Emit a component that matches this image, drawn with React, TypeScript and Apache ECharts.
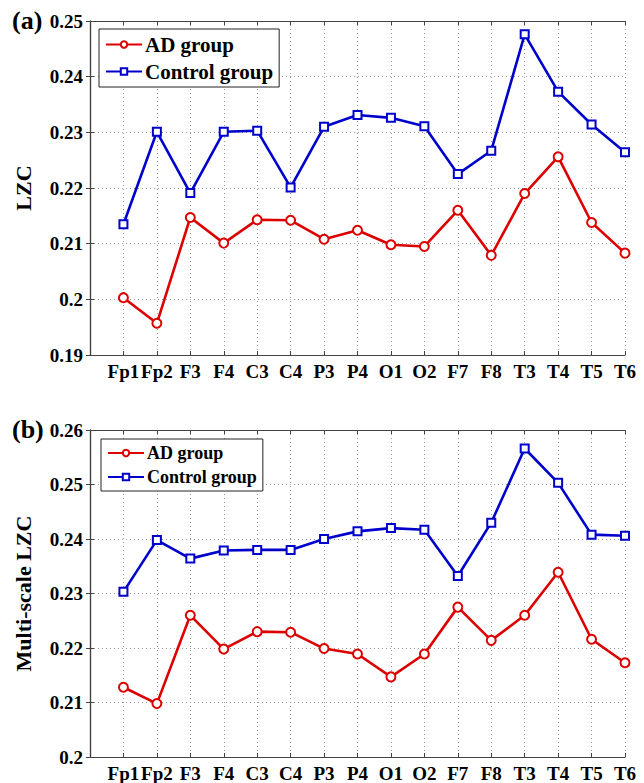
import React, { useEffect, useRef } from "react";
import * as echarts from "echarts";

// EEG channels along the horizontal axis
const categories = ["Fp1", "Fp2", "F3", "F4", "C3", "C4", "P3", "P4", "O1", "O2", "F7", "F8", "T3", "T4", "T5", "T6"];

// (a) LZC per channel
const lzcAD = [0.2003, 0.1957, 0.2147, 0.2101, 0.2143, 0.2142, 0.2108, 0.2124, 0.2098, 0.2095, 0.216, 0.2079, 0.219, 0.2256, 0.2138, 0.2083];
const lzcControl = [0.2135, 0.2301, 0.2191, 0.2301, 0.2303, 0.2201, 0.231, 0.2331, 0.2326, 0.2311, 0.2225, 0.2267, 0.2476, 0.2373, 0.2314, 0.2264];

// (b) Multi-scale LZC per channel
const msAD = [0.2128, 0.2098, 0.226, 0.2198, 0.223, 0.2229, 0.2199, 0.2189, 0.2147, 0.2189, 0.2275, 0.2214, 0.226, 0.2339, 0.2216, 0.2173];
const msControl = [0.2303, 0.2398, 0.2364, 0.2379, 0.238, 0.238, 0.24, 0.2414, 0.242, 0.2417, 0.2332, 0.243, 0.2566, 0.2503, 0.2408, 0.2406];

// y-axis ranges
const lzcRange = { min: 0.19, max: 0.25, interval: 0.01 };
const msRange = { min: 0.2, max: 0.26, interval: 0.01 };

const FONT = "'Liberation Serif', 'Times New Roman', serif";
const RED = "#dd0000";
const BLUE = "#0000cc";
const FRAME = "#444444";

const toPoints = (vals: number[]) => vals.map((v, i) => [i + 1, v]);

export default function App() {
  const ref = useRef<HTMLDivElement>(null);

  useEffect(() => {
    if (!ref.current) return;
    const chart = echarts.init(ref.current, null, { renderer: "svg" });

    const grids = [
      { left: 90, right: 19, top: 21, height: 334 },
      { left: 90, right: 19, top: 430, height: 330 },
    ];

    const splitDotted = { show: true, lineStyle: { color: "#9a9a9a", type: [1, 3] as any, width: 1 } };

    const xAxes: any[] = [];
    const yAxes: any[] = [];
    const ranges = [lzcRange, msRange];
    const names = ["LZC", "Multi-scale LZC"];

    grids.forEach((_, g) => {
      // bottom x axis with channel labels
      xAxes.push({
        type: "value",
        gridIndex: g,
        min: 0,
        max: categories.length,
        interval: 1,
        position: "bottom",
        axisLine: { show: true, lineStyle: { color: FRAME, width: 1.2 } },
        axisTick: { show: true, inside: true, length: 4, lineStyle: { color: FRAME } },
        axisLabel: {
          show: true,
          margin: 7,
          color: "#000",
          fontFamily: FONT,
          fontWeight: "bold",
          fontSize: 19,
          formatter: (v: number) => categories[v - 1] ?? "",
        },
        splitLine: splitDotted,
      });
      // top frame edge
      xAxes.push({
        type: "value",
        gridIndex: g,
        min: 0,
        max: categories.length,
        interval: 1,
        position: "top",
        axisLine: { show: true, lineStyle: { color: FRAME, width: 1.2 } },
        axisTick: { show: true, inside: true, length: 4, lineStyle: { color: FRAME } },
        axisLabel: { show: false },
        splitLine: { show: false },
      });
      const r = ranges[g];
      yAxes.push({
        type: "value",
        gridIndex: g,
        min: r.min,
        max: r.max,
        interval: r.interval,
        position: "left",
        name: names[g],
        nameLocation: "middle",
        nameGap: 56,
        nameTextStyle: { color: "#000", fontFamily: FONT, fontWeight: "bold", fontSize: 22 },
        axisLine: { show: true, lineStyle: { color: FRAME, width: 1.2 } },
        axisTick: { show: true, inside: true, length: 4, lineStyle: { color: FRAME } },
        axisLabel: {
          show: true,
          margin: 7,
          color: "#000",
          fontFamily: FONT,
          fontWeight: "bold",
          fontSize: 19,
          formatter: (v: number) => String(parseFloat(v.toFixed(4))),
        },
        splitLine: splitDotted,
      });
      // right frame edge
      yAxes.push({
        type: "value",
        gridIndex: g,
        min: r.min,
        max: r.max,
        interval: r.interval,
        position: "right",
        axisLine: { show: true, lineStyle: { color: FRAME, width: 1.2 } },
        axisTick: { show: true, inside: true, length: 4, lineStyle: { color: FRAME } },
        axisLabel: { show: false },
        splitLine: { show: false },
      });
    });

    const lineSeries = (name: string, data: number[], g: number, color: string, symbol: string, size: number) => ({
      type: "line",
      name,
      xAxisIndex: g * 2,
      yAxisIndex: g * 2,
      data: toPoints(data),
      symbol,
      symbolSize: size,
      showAllSymbol: true,
      lineStyle: { color, width: 2.6 },
      itemStyle: { color, borderColor: color, borderWidth: 2 },
    });

    const legendBase = {
      orient: "vertical",
      backgroundColor: "#fff",
      borderColor: "#222",
      borderWidth: 1,
      borderRadius: 0,
      itemWidth: 36,
      itemHeight: 8,
      selectedMode: false,
      data: ["AD group", "Control group"],
    };

    chart.setOption({
      animation: false,
      backgroundColor: "#fff",
      grid: grids,
      xAxis: xAxes,
      yAxis: yAxes,
      legend: [
        {
          ...legendBase,
          left: 99,
          top: 29,
          padding: [5, 6, 5, 6],
          itemGap: 6,
          textStyle: { color: "#000", fontFamily: FONT, fontWeight: "bold", fontSize: 21, padding: [0, 0, 0, -2] },
        },
        {
          ...legendBase,
          left: 101,
          top: 439,
          padding: [5, 6, 5, 6],
          itemGap: 6,
          textStyle: { color: "#000", fontFamily: FONT, fontWeight: "bold", fontSize: 18, padding: [0, 0, 0, -2] },
        },
      ],
      graphic: [
        {
          type: "text",
          left: 12,
          top: 7,
          style: { text: "(a)", fill: "#000", font: `bold 26px ${FONT}` },
        },
        {
          type: "text",
          left: 12,
          top: 416,
          style: { text: "(b)", fill: "#000", font: `bold 26px ${FONT}` },
        },
      ],
      series: [
        lineSeries("AD group", lzcAD, 0, RED, "emptyCircle", 9),
        lineSeries("Control group", lzcControl, 0, BLUE, "emptyRect", 8),
        lineSeries("AD group", msAD, 1, RED, "emptyCircle", 9),
        lineSeries("Control group", msControl, 1, BLUE, "emptyRect", 8),
      ],
    });

    return () => chart.dispose();
  }, []);

  return (
    <div
      ref={ref}
      style={{ position: "fixed", left: 0, top: 0, width: 644, height: 783, background: "#fff" }}
    />
  );
}
